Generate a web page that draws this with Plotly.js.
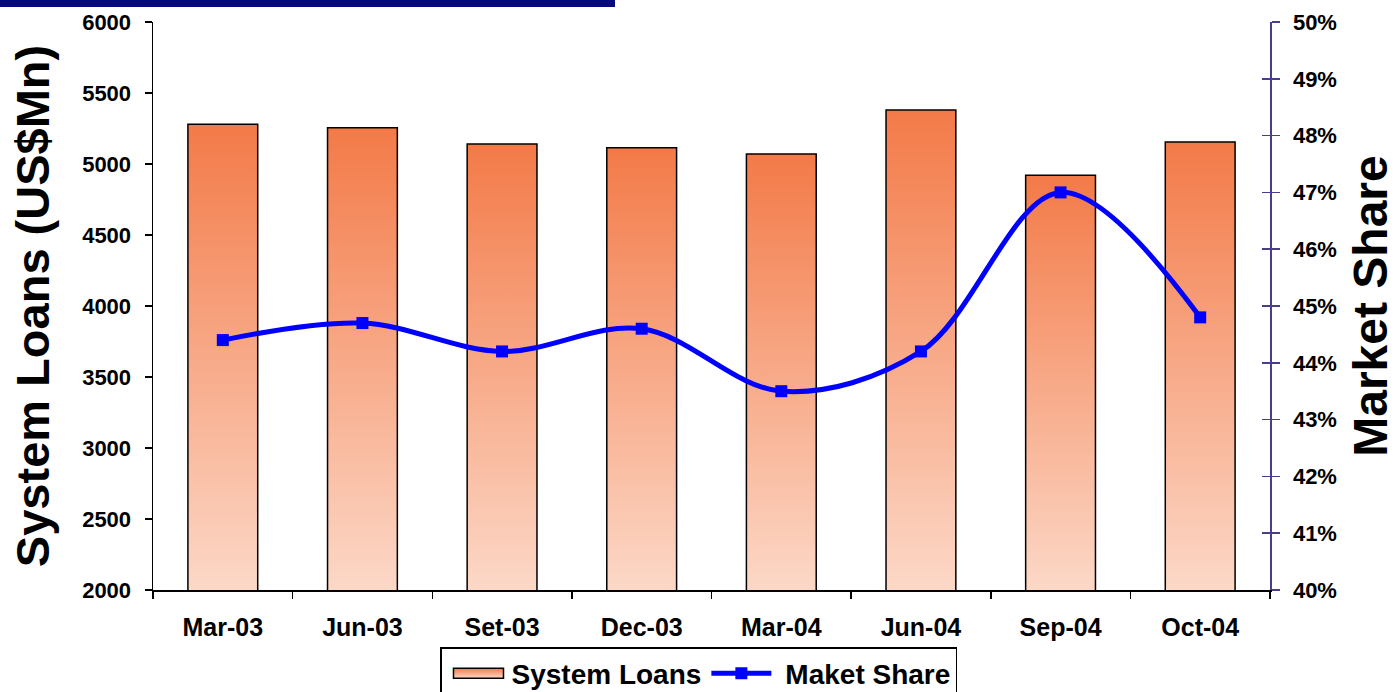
<!DOCTYPE html>
<html>
<head>
<meta charset="utf-8">
<script src="https://cdn.plot.ly/plotly-3.0.1.min.js"></script>
<style>
  html, body { margin: 0; padding: 0; background: #ffffff; }
  #chart { width: 1397px; height: 692px; }
</style>
</head>
<body>
<div id="chart"></div>
<script>
// ---- data ----
const categories = ['Mar-03', 'Jun-03', 'Set-03', 'Dec-03', 'Mar-04', 'Jun-04', 'Sep-04', 'Oct-04'];
const systemLoans = [5280, 5255, 5140, 5115, 5070, 5380, 4920, 5155];
const marketShare = [0.444, 0.447, 0.442, 0.446, 0.435, 0.442, 0.470, 0.448];
const leftTicks = [2000, 2500, 3000, 3500, 4000, 4500, 5000, 5500, 6000];
const rightTicks = [0.40, 0.41, 0.42, 0.43, 0.44, 0.45, 0.46, 0.47, 0.48, 0.49, 0.50];

const FONT = 'Liberation Sans, Arial, Helvetica, sans-serif';
const PURPLE = '#4B3C8C';
const GRAD_TOP = '#F37A48';
const GRAD_BOTTOM = '#FCD8C7';

const traces = [
  {
    type: 'bar',
    name: 'System Loans',
    x: categories,
    y: systemLoans,
    yaxis: 'y',
    width: 0.5,
    marker: { color: '#F59E78', line: { color: '#000000', width: 1.5 } },
    hovertemplate: '%{x}: %{y}<extra></extra>'
  },
  {
    type: 'scatter',
    mode: 'lines+markers',
    name: 'Maket Share',
    x: categories,
    y: marketShare,
    yaxis: 'y2',
    line: { color: '#0000FF', width: 5, shape: 'spline', smoothing: 1 },
    marker: { symbol: 'square', size: 12, color: '#0000FF' },
    hovertemplate: '%{x}: %{y:.1%}<extra></extra>'
  },
  {
    // invisible helper so the cross-tick overlay axis (yaxis3) is drawn
    type: 'scatter', mode: 'none', x: [categories[0]], y: [rightTicks[0]],
    yaxis: 'y3', showlegend: false, hoverinfo: 'skip'
  }
];

const layout = {
  width: 1397,
  height: 692,
  margin: { l: 153, r: 127, t: 22, b: 102, pad: 0 },
  paper_bgcolor: '#ffffff',
  plot_bgcolor: '#ffffff',
  font: { family: FONT, color: '#000000', weight: 'bold' },
  showlegend: true,
  xaxis: {
    type: 'category',
    range: [-0.5, 7.5],
    showline: true,
    linecolor: '#000000',
    linewidth: 1.5,
    ticks: 'outside',
    tickson: 'boundaries',
    ticklen: 7,
    tickcolor: '#000000',
    tickwidth: 1.5,
    tickfont: { family: FONT, size: 25, color: '#000000', weight: 'bold' },
    ticklabelstandoff: 14,
    showgrid: false,
    zeroline: false,
    fixedrange: true
  },
  yaxis: {
    range: [2000, 6000],
    tickvals: leftTicks,
    showline: true,
    linecolor: '#000000',
    linewidth: 1.5,
    ticks: 'outside',
    ticklen: 7,
    tickcolor: '#000000',
    tickwidth: 1.5,
    tickfont: { family: FONT, size: 22, color: '#000000', weight: 'bold' },
    ticklabelstandoff: 9,
    showgrid: false,
    zeroline: false,
    title: {
      text: 'System Loans (US$Mn)',
      font: { family: FONT, size: 47, color: '#000000', weight: 'bold' },
      standoff: 17
    },
    fixedrange: true
  },
  yaxis2: {
    overlaying: 'y',
    side: 'right',
    anchor: 'x',
    range: [0.40, 0.50],
    tickvals: rightTicks,
    tickformat: '.0%',
    showline: true,
    linecolor: PURPLE,
    linewidth: 1.5,
    ticks: 'outside',
    ticklen: 8,
    tickcolor: PURPLE,
    tickwidth: 1.5,
    tickfont: { family: FONT, size: 22, color: '#000000', weight: 'bold' },
    ticklabelstandoff: 9,
    showgrid: false,
    zeroline: false,
    title: {
      text: 'Market Share',
      font: { family: FONT, size: 48, color: '#000000', weight: 'bold' },
      standoff: 30
    },
    fixedrange: true
  },
  yaxis3: {
    overlaying: 'y',
    side: 'right',
    anchor: 'x',
    range: [0.40, 0.50],
    tickvals: rightTicks,
    showticklabels: false,
    showline: false,
    ticks: 'inside',
    ticklen: 8,
    tickcolor: PURPLE,
    tickwidth: 1.5,
    showgrid: false,
    zeroline: false,
    fixedrange: true
  },
  legend: {
    orientation: 'h',
    xref: 'container',
    yref: 'container',
    x: 440 / 1397,
    xanchor: 'left',
    y: 1 - 647 / 692,
    yanchor: 'top',
    bgcolor: '#ffffff',
    bordercolor: '#000000',
    borderwidth: 1.5,
    font: { family: FONT, size: 28, color: '#000000', weight: 'bold' },
    itemwidth: 60,
    traceorder: 'normal'
  },
  shapes: [
    {
      type: 'rect',
      xref: 'paper', yref: 'paper',
      x0: -0.137, x1: 0.4136,
      y0: 1.0262, y1: 1.045,
      fillcolor: '#08087E',
      line: { width: 0 },
      layer: 'above'
    }
  ]
};

const NS = 'http://www.w3.org/2000/svg';
function ensureGradient(defs, id, units, y1, y2) {
  let g = defs.querySelector('#' + id);
  if (!g) {
    g = document.createElementNS(NS, 'linearGradient');
    g.setAttribute('id', id);
    const s1 = document.createElementNS(NS, 'stop');
    s1.setAttribute('offset', '0');
    s1.setAttribute('stop-color', GRAD_TOP);
    const s2 = document.createElementNS(NS, 'stop');
    s2.setAttribute('offset', '1');
    s2.setAttribute('stop-color', GRAD_BOTTOM);
    g.appendChild(s1); g.appendChild(s2);
    defs.appendChild(g);
  }
  g.setAttribute('gradientUnits', units);
  g.setAttribute('x1', '0'); g.setAttribute('x2', '0');
  g.setAttribute('y1', String(y1)); g.setAttribute('y2', String(y2));
  return g;
}

const EXTRA_GAP = 9;
function widenAttr(el, by) {
  if (el) el.setAttribute('width', String(parseFloat(el.getAttribute('width')) + by));
}
function applyGradients(gd) {
  const svg = gd.querySelector('svg.main-svg');
  if (!svg) return;
  let defs = svg.querySelector('defs');
  if (!defs) { defs = document.createElementNS(NS, 'defs'); svg.insertBefore(defs, svg.firstChild); }
  const plotH = gd._fullLayout._size.h;
  gd.querySelectorAll('.barlayer .point path').forEach((p, i) => {
    const bb = p.getBBox();
    const bottom = Math.min(bb.y + bb.height, plotH);
    const id = 'barGrad' + i;
    ensureGradient(defs, id, 'userSpaceOnUse', bb.y, bottom);
    p.style.fill = 'url(#' + id + ')';
  });
  // legend: wide gradient swatch for the bars, a little more room before the share label
  const legendTraces = gd.querySelectorAll('.legend .traces');
  if (legendTraces[0]) {
    const sw = legendTraces[0].querySelector('.legendpoints path');
    if (sw) {
      ensureGradient(defs, 'legGrad', 'objectBoundingBox', 0, 1);
      sw.setAttribute('d', 'M-23,5H27V-5H-23Z');
      sw.style.fill = 'url(#legGrad)';
      sw.style.stroke = '#000000';
      sw.style.strokeWidth = '1.5px';
    }
  }
  if (legendTraces[1]) {
    const t = legendTraces[1].querySelector('text.legendtext');
    if (t && !t.dataset.shifted) {
      t.setAttribute('x', String(parseFloat(t.getAttribute('x') || '0') + EXTRA_GAP));
      t.dataset.shifted = '1';
      widenAttr(gd.querySelector('.legend rect.bg'), EXTRA_GAP);
      const sb = gd.querySelector('.legend .scrollbox');
      const cp = sb && sb.getAttribute('clip-path');
      const m = cp && cp.match(/#([^)'"]+)/);
      if (m) {
        const clipRect = document.querySelector('[id="' + m[1] + '"] rect');
        widenAttr(clipRect, EXTRA_GAP + 4);
      }
    }
  }
}

const gd = document.getElementById('chart');
Plotly.newPlot(gd, traces, layout, { displayModeBar: false, staticPlot: true }).then(() => {
  applyGradients(gd);
  gd.on('plotly_afterplot', () => applyGradients(gd));
});
</script>
</body>
</html>
